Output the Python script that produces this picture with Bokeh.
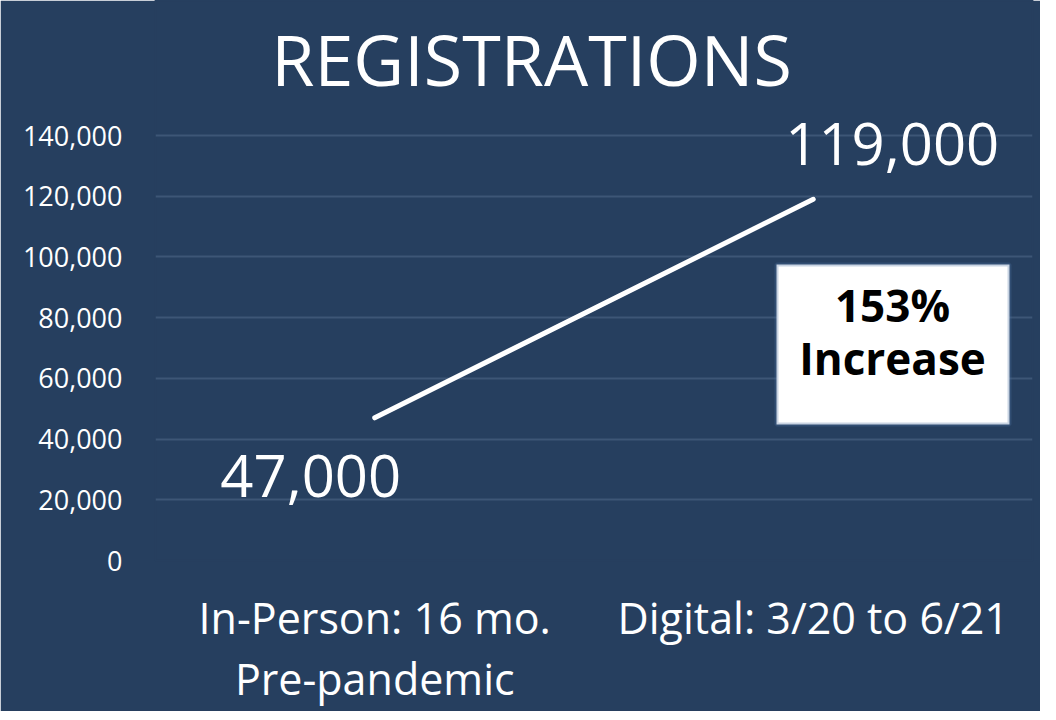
from bokeh.plotting import figure
from bokeh.models import Range1d, FixedTicker, Label, BoxAnnotation
from bokeh.embed import file_html
from bokeh.resources import INLINE

# ---- data ----
categories = ["In-Person: 16 mo.\nPre-pandemic", "Digital: 3/20 to 6/21"]
registrations = [47000, 119000]
value_labels = ["47,000", "119,000"]
y_ticks = [0, 20000, 40000, 60000, 80000, 100000, 120000, 140000]
y_tick_labels = ["0", "20,000", "40,000", "60,000", "80,000", "100,000", "120,000", "140,000"]
title_text = "REGISTRATIONS"
callout_lines = ["153%", "Increase"]

# ---- style / layout (pixels on the canvas) ----
BG = "#263f5f"
GRID = "#3d5676"
FONT = "Open Sans"
LEFT_PX = 155          # frame left
FRAME_W = 877
FRAME_H = 560          # frame spans from canvas top down to the zero line
TOP_TICK_PX = 135      # canvas y of the highest gridline

xs = list(range(len(categories)))
y_max_tick = y_ticks[-1]
y_end = y_max_tick * FRAME_H / (FRAME_H - TOP_TICK_PX)


def px_x(px):
    return -0.5 + (px - LEFT_PX) / FRAME_W * len(categories)


def px_y(py):
    return (FRAME_H - py) / (FRAME_H - TOP_TICK_PX) * y_max_tick


p = figure(frame_width=FRAME_W, frame_height=FRAME_H, output_backend="svg", toolbar_location=None,
           x_range=Range1d(-0.5, len(categories) - 0.5), y_range=Range1d(0, y_end),
           min_border_left=LEFT_PX, min_border_right=8, min_border_top=0, min_border_bottom=0,
           background_fill_color=BG, border_fill_color=BG,
           outline_line_color=BG, outline_line_width=2)

# y axis
p.yaxis.ticker = FixedTicker(ticks=y_ticks)
p.yaxis.major_label_overrides = {t: l for t, l in zip(y_ticks, y_tick_labels)}
p.yaxis.major_label_text_font = FONT
p.yaxis.major_label_text_font_size = "27px"
p.yaxis.major_label_text_color = "white"
p.yaxis.axis_line_color = None
p.yaxis.major_tick_line_color = None
p.yaxis.minor_tick_line_color = None
p.yaxis.major_tick_out = 0
p.yaxis.major_tick_in = 0
p.yaxis.major_label_standoff = 33

# x axis
p.xaxis.ticker = FixedTicker(ticks=xs)
p.xaxis.major_label_overrides = {x: c for x, c in zip(xs, categories)}
p.xaxis.major_label_text_font = FONT
p.xaxis.major_label_text_font_size = "43px"
p.xaxis.major_label_text_color = "white"
p.xaxis.major_label_text_line_height = 1.05
p.xaxis.axis_line_color = None
p.xaxis.major_tick_line_color = None
p.xaxis.minor_tick_line_color = None
p.xaxis.major_tick_out = 0
p.xaxis.major_tick_in = 0
p.xaxis.major_label_standoff = 27

# grid
p.xgrid.grid_line_color = None
p.ygrid.ticker = FixedTicker(ticks=y_ticks)
p.ygrid.grid_line_color = GRID
p.ygrid.grid_line_width = 2

# title (inside the top of the frame)
p.add_layout(Label(x=px_x(531), y=px_y(58), text=title_text,
                   text_align="center", text_baseline="alphabetic",
                   text_font=FONT, text_font_size="70px", text_color="white"))

# line
p.line(xs, registrations, line_color="white", line_width=5, line_cap="round")

# value labels
offsets = [(-64, -58), (79, 55)]
for x, y, t, (dx, dy) in zip(xs, registrations, value_labels, offsets):
    p.add_layout(Label(x=x, y=y, text=t, x_offset=dx, y_offset=dy,
                       text_align="center", text_baseline="middle",
                       text_font=FONT, text_font_size="58px", text_color="white"))

# callout box
p.add_layout(BoxAnnotation(left=px_x(776), right=px_x(1009), bottom=px_y(424), top=px_y(264),
                           fill_color="white", fill_alpha=1.0,
                           line_color="#4d71a3", line_width=4, level="overlay"))
callout_y = [304, 357]
for t, cy in zip(callout_lines, callout_y):
    p.add_layout(Label(x=px_x(892), y=px_y(cy), text=t, text_align="center", text_baseline="middle",
                       text_font=FONT, text_font_size="44px", text_font_style="bold",
                       text_color="black", level="overlay"))

open("out.html", "w").write(file_html(p, INLINE))
